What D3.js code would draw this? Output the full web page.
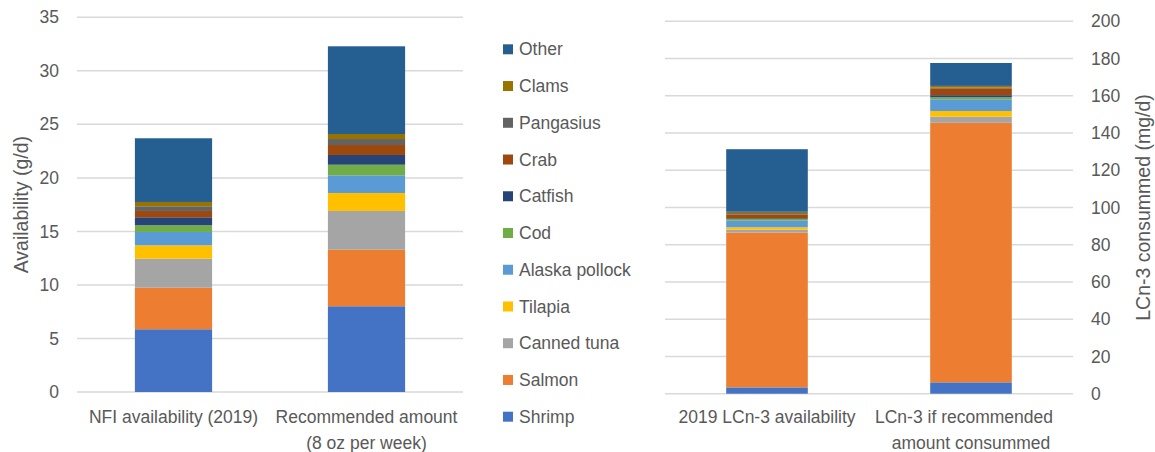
<!DOCTYPE html>
<meta charset='utf-8'>
<style>
  body { margin: 0; background: #fff; }
  svg text { font-family: 'Liberation Sans', Arial, sans-serif; fill: #595959; }
  .grid line { stroke: #d9d9d9; stroke-width: 1.5px; }
</style>
<svg width='1155' height='452'></svg>
<script src='https://cdn.jsdelivr.net/npm/d3@7'></script>
<script>
  // series, bottom to top
  var species = ['Shrimp', 'Salmon', 'Canned tuna', 'Tilapia', 'Alaska pollock', 'Cod',
    'Catfish', 'Crab', 'Pangasius', 'Clams', 'Other'];
  var colors = ['#4472C4', '#ED7D31', '#A5A5A5', '#FFC000', '#5B9BD5', '#70AD47',
    '#264478', '#9E480E', '#636363', '#997300', '#255E91'];

  // left panel: availability (g/d)
  var leftCats = [['NFI availability (2019)'], ['Recommended amount', '(8 oz per week)']];
  var nfi2019 = [5.86, 3.88, 2.71, 1.25, 1.25, 0.62, 0.75, 0.59, 0.44, 0.40, 5.95];
  var recommended = [8.01, 5.28, 3.62, 1.68, 1.65, 0.99, 0.91, 0.93, 0.56, 0.47, 8.19];
  var leftTicks = [0, 5, 10, 15, 20, 25, 30, 35];

  // right panel: LCn-3 consumed (mg/d)
  var rightCats = [['2019 LCn-3 availability'], ['LCn-3 if recommended', 'amount consummed']];
  var lcn2019 = [3.4, 83.1, 1.6, 1.3, 3.5, 0.9, 0.4, 2.1, 0.7, 0.7, 33.6];
  var lcnRecommended = [6.1, 139.4, 3.3, 3.0, 6.3, 1.1, 1.1, 3.7, 0.4, 0.9, 12.3];
  var rightTicks = [0, 20, 40, 60, 80, 100, 120, 140, 160, 180, 200];

  var svg = d3.select('svg');
  var color = d3.scaleOrdinal(species, colors);

  function panel(opts) {
    var x = d3.scaleBand().domain(d3.range(opts.cats.length)).range([opts.x0, opts.x1]);
    var y = d3.scaleLinear().domain([0, opts.max]).range([opts.y0, opts.y1]);
    var g = svg.append('g');

    g.append('g').attr('class', 'grid')
      .selectAll('line').data(opts.ticks).enter().append('line')
        .attr('x1', opts.x0).attr('x2', opts.x1)
        .attr('y1', d => y(d)).attr('y2', d => y(d));

    var rows = opts.values.map(v => {
      var r = {};
      species.forEach((s, i) => r[s] = v[i]);
      return r;
    });
    var stacked = d3.stack().keys(species)(rows);
    var bw = x.bandwidth() * 0.4;

    g.append('g').selectAll('g').data(stacked).enter().append('g')
        .attr('fill', d => color(d.key))
      .selectAll('rect').data(d => d).enter().append('rect')
        .attr('x', (d, i) => x(i) + (x.bandwidth() - bw) / 2)
        .attr('width', bw)
        .attr('y', d => y(d[1]))
        .attr('height', d => y(d[0]) - y(d[1]));

    // value axis
    var axis = (opts.side === 'left' ? d3.axisLeft(y) : d3.axisRight(y))
      .tickValues(opts.ticks).tickSize(0).tickPadding(0);
    var ag = g.append('g')
      .attr('transform', 'translate(' + opts.tickX + ',0)')
      .call(axis);
    ag.select('.domain').remove();
    ag.selectAll('text').style('font-size', '17.5px').attr('fill', '#595959')
      .style('font-family', "'Liberation Sans', Arial, sans-serif");

    // category labels
    opts.cats.forEach((lines, i) => {
      lines.forEach((t, j) => {
        g.append('text')
          .attr('x', x(i) + x.bandwidth() / 2 + (opts.shift && j === 0 && lines.length > 1 ? opts.shift : 0))
          .attr('y', 423 + j * 25.5)
          .attr('text-anchor', 'middle')
          .style('font-size', '17.5px')
          .text(t);
      });
    });

    // axis title
    g.append('text')
      .attr('transform', 'translate(' + opts.titleX + ',' + (opts.y0 + opts.y1) / 2 + ') rotate(-90)')
      .attr('text-anchor', 'middle')
      .attr('dy', '0.35em')
      .style('font-size', '19.5px')
      .text(opts.title);
  }

  panel({
    cats: leftCats, values: [nfi2019, recommended], ticks: leftTicks, max: 35,
    x0: 77, x1: 463, y0: 392, y1: 17.3, side: 'left', tickX: 59,
    titleX: 21, title: 'Availability (g/d)'
  });

  panel({
    cats: rightCats, values: [lcn2019, lcnRecommended], ticks: rightTicks, max: 200,
    x0: 665, x1: 1073, y0: 393.7, y1: 21.3, side: 'right', tickX: 1091,
    titleX: 1143, title: 'LCn-3 consummed (mg/d)', shift: -7
  });

  // legend, top to bottom reversed order
  var legend = svg.append('g').selectAll('g')
    .data(species.slice().reverse()).enter().append('g')
      .attr('transform', (d, i) => 'translate(503,' + (49.3 + i * 36.74) + ')');
  legend.append('rect')
    .attr('y', -5).attr('width', 10).attr('height', 10)
    .attr('fill', d => color(d));
  legend.append('text')
    .attr('x', 16).attr('dy', '0.35em')
    .style('font-size', '17.5px')
    .text(d => d);
</script>
